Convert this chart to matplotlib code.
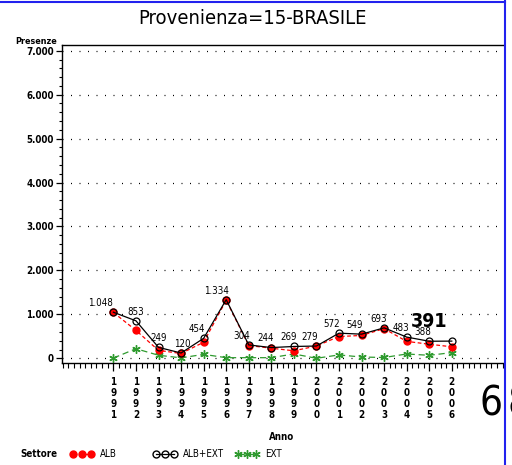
import matplotlib
matplotlib.use("Agg")
import matplotlib.pyplot as plt
from matplotlib.lines import Line2D
from matplotlib.ticker import MultipleLocator, FuncFormatter
import matplotlib.font_manager as fm

# ---- data ----
years = [1991, 1992, 1993, 1994, 1995, 1996, 1997, 1998, 1999, 2000,
         2001, 2002, 2003, 2004, 2005, 2006]
alb_ext = [1048, 853, 249, 120, 454, 1334, 304, 244, 269, 279,
           572, 549, 693, 483, 388, 391]
alb = [1043, 635, 180, 110, 365, 1320, 290, 230, 170, 280,
       495, 520, 675, 385, 320, 262]
ext = [5, 218, 69, 10, 89, 14, 14, 14, 99, 0,
       77, 29, 18, 98, 68, 129]
title = "Provenienza=15-BRASILE"
yticks = [0, 1000, 2000, 3000, 4000, 5000, 6000, 7000]
series_names = ["ALB", "ALB+EXT", "EXT"]

# horizontal label shifts (points), styling only
label_dx = [-9, 0, 0, 1, -5, -7, -5, -4, -4, -5, -5, -5, -4, -4, -5, -16]

# pick a condensed font if one is installed
cand = None
for f in fm.fontManager.ttflist:
    if 'condensed' in str(f.stretch) or (isinstance(f.stretch, int) and f.stretch < 500):
        cand = f.name
        break
if 'Liberation Sans Narrow' in {f.name for f in fm.fontManager.ttflist}:
    cand = 'Liberation Sans Narrow'
fam = [cand, 'DejaVu Sans'] if cand else ['DejaVu Sans']
plt.rcParams['font.family'] = fam
plt.rcParams['font.stretch'] = 'condensed'

RED = '#ff0000'
GREEN = '#2e9a2e'

W, H = 512, 465
fig = plt.figure(figsize=(W / 100, H / 100), dpi=100)
ax = fig.add_axes([61.5 / W, 1 - 363.3 / H, (503 - 61.5) / W, (363.3 - 45) / H])

ax.set_xlim(1988.70, 2008.27)
ax.set_ylim(-114, 7130)

for v in yticks:
    ax.axhline(v, color='black', lw=0.9, ls=(0, (0.8, 6.0)), zorder=0)

ax.plot(years, alb, color=RED, ls=(0, (3, 2)), lw=0.9, marker='o',
        ms=5, mfc=RED, mec=RED, zorder=3)
ax.plot(years, alb_ext, color='black', ls='-', lw=0.9, marker='o',
        ms=5, mfc='none', mec='black', mew=0.9, zorder=4)
ax.plot(years, ext, color=GREEN, ls=(0, (5, 3)), lw=0.9, marker=(6, 2, 0),
        ms=6, mec=GREEN, mew=1.0, zorder=2)

def fmt(v):
    return f"{v:,}".replace(',', '.')

for i, (x, y) in enumerate(zip(years, alb_ext)):
    if i == len(years) - 1:
        ax.annotate(fmt(y), (x, y), xytext=(label_dx[i], 7), textcoords='offset points',
                    ha='center', va='bottom', fontsize=14, fontweight='bold')
    else:
        ax.annotate(fmt(y), (x, y), xytext=(label_dx[i], 3), textcoords='offset points',
                    ha='center', va='bottom', fontsize=7)

ax.spines['right'].set_visible(False)
for s in ['top', 'left', 'bottom']:
    ax.spines[s].set_linewidth(1.0)

ax.set_yticks(yticks)
ax.yaxis.set_minor_locator(MultipleLocator(200))
ax.yaxis.set_major_formatter(FuncFormatter(lambda v, p: fmt(int(v))))
ax.set_xticks(years)
ax.set_xticklabels(["\n".join(str(y)) for y in years], fontsize=7,
                   fontweight='bold', linespacing=1.1)
ax.xaxis.set_minor_locator(MultipleLocator(0.25))
ax.tick_params(axis='y', which='major', length=4, width=0.9, labelsize=7, pad=1.5)
ax.tick_params(axis='y', which='minor', length=2.5, width=0.8)
ax.tick_params(axis='x', which='major', length=6, width=0.9, pad=4)
ax.tick_params(axis='x', which='minor', length=3.5, width=0.8)
for lab in ax.get_yticklabels():
    lab.set_fontweight('bold')

fig.text(252 / W, 1 - 18 / H, title, ha='center', va='center', fontsize=14.5,
         fontweight='light')
fig.text(57 / W, 1 - 42 / H, "Presenze", ha='right', va='center', fontsize=6.5,
         fontweight='bold')
fig.text(282 / W, 1 - 437 / H, "Anno", ha='center', va='center', fontsize=7,
         fontweight='bold')
fig.text(20 / W, 1 - 454 / H, "Settore", ha='left', va='center', fontsize=7,
         fontweight='bold')

handles = [
    Line2D([], [], color=RED, ls=(0, (3, 2)), lw=0.9, marker='o', ms=5,
           mfc=RED, mec=RED),
    Line2D([], [], color='black', lw=0.9, marker='o', ms=5, mfc='none', mec='black'),
    Line2D([], [], color=GREEN, ls=(0, (5, 3)), lw=0.9, marker=(6, 2, 0), ms=6,
           mec=GREEN),
]
for h, name, x0 in zip(handles, series_names, [70, 153, 235]):
    fig.legend([h], [name], loc='center left', bbox_to_anchor=(x0 / W, 1 - 454 / H),
               frameon=False, numpoints=3, handlelength=2.5, handletextpad=0.6,
               fontsize=7, borderpad=0, borderaxespad=0)

# "68" page fragment
fig.text(502 / W, 1 - 404 / H, "6", ha='right', va='center', fontsize=29,
         fontweight='light')
fig.text(507 / W, 1 - 404 / H, "8", ha='left', va='center', fontsize=29,
         fontweight='light')

# page border lines
fig.add_artist(Line2D([0, 505 / W], [1 - 2.5 / H, 1 - 2.5 / H], color='#2222ee', lw=1.5))
fig.add_artist(Line2D([504.5 / W, 504.5 / W], [0, 1], color='#2222ee', lw=1.5))

fig.savefig("out.png", dpi=100)
